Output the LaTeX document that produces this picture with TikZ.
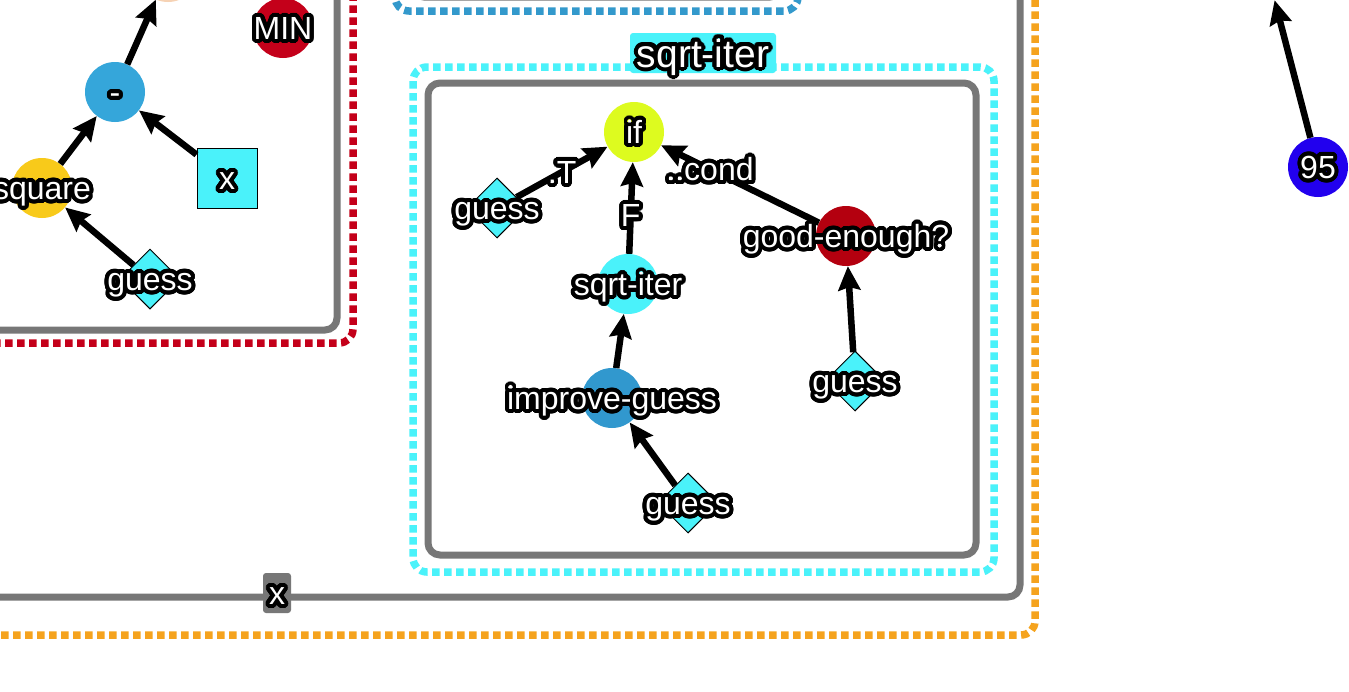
\documentclass[tikz,border=0pt]{standalone}
\usepackage{fontspec}
\setmainfont{Liberation Sans}
\usepackage{contour}
\contourlength{4pt}
\contournumber{32}
\usetikzlibrary{arrows.meta,shapes.geometric}
\definecolor{cy}{HTML}{4AF2FA}
\definecolor{blA}{HTML}{35A6DA}
\definecolor{blB}{HTML}{3198CE}
\definecolor{yl}{HTML}{F8CA1A}
\definecolor{lime}{HTML}{DDFB1F}
\definecolor{rdA}{HTML}{C4001A}
\definecolor{rdB}{HTML}{B4000F}
\definecolor{nb}{HTML}{2200EE}
\definecolor{gr}{HTML}{777777}
\definecolor{og}{HTML}{F5A31E}
\definecolor{bfr}{HTML}{3399CC}
\definecolor{peach}{HTML}{F6D2B4}
\newcommand\olt[1]{\contour{black}{#1}}
\tikzset{
  lbl/.style={font=\fontsize{32}{38}\selectfont, text=white, inner sep=0pt, text height=23pt, text depth=0pt},
  ttl/.style={font=\fontsize{39}{46}\selectfont, text=white, inner sep=0pt, text height=28pt, text depth=0pt},
  circ/.style={circle, minimum size=60pt, inner sep=0pt},
  dia/.style={diamond, draw=black, line width=1pt, fill=cy, minimum size=60pt, inner sep=0pt},
  sqbox/.style={rectangle, draw=black, line width=1pt, fill=cy, minimum size=60pt, inner sep=0pt},
  arr/.style={line width=6.5pt, -{Stealth[length=24pt,width=22pt,inset=3pt]}},
  dotframe/.style={line width=7.5pt, dash pattern=on 7.5pt off 4.5pt, rounded corners=14pt},
  grframe/.style={line width=7pt, draw=gr, rounded corners=12pt},
}
\begin{document}
\begin{tikzpicture}[x=1pt,y=-1pt]
\useasboundingbox (0,0) rectangle (1349,691);
\clip (0,0) rectangle (1349,691);
\fill[white] (0,0) rectangle (1349,691);
% frames
\draw[dotframe, draw=og] (-40,-40) rectangle (1035,635);
\draw[grframe] (-30,-30) rectangle (1020,597);
\draw[dotframe, draw=bfr] (395,-60) rectangle (798,11);
\draw[grframe] (412,-60) rectangle (782,-3);
\draw[dotframe, draw=rdA] (-40,-40) rectangle (353,343);
\draw[grframe] (-30,-30) rectangle (337,330);
\draw[dotframe, draw=cy] (413,67) rectangle (994,572);
\draw[grframe] (428,83) rectangle (976,555);
% frame labels
\node[fill=cy, rounded corners=3pt, minimum width=146pt, minimum height=40pt, inner sep=0pt] (title) at (703,53) {};
\node[ttl] (titletext) at (title.center) {\olt{sqrt-iter}};
\node[fill=gr, rounded corners=3pt, minimum width=28pt, minimum height=40pt, inner sep=0pt] (xtag) at (277,593) {};
\node[lbl] (xtagtext) at (xtag.center) {\olt{x}};
% shapes
\node[circ, fill=lime] (if) at (634,132) {};
\node[dia] (g1) at (497,208) {};
\node[circ, fill=cy] (si) at (628,284) {};
\node[circ, fill=blB] (ig) at (612,398) {};
\node[dia] (g2) at (688,503) {};
\node[circ, fill=rdB] (ge) at (846,236) {};
\node[dia] (g3) at (855,381) {};
\node[circ, fill=blA] (minus) at (115,92) {};
\node[circ, fill=yl] (sqr) at (42,188) {};
\node[sqbox] (xv) at (227,178) {};
\node[dia] (g4) at (150,279) {};
\node[circ, fill=rdA] (min) at (283,28) {};
\node[circ, fill=nb] (n95) at (1318,167) {};
\node[circ, fill=peach] (top1) at (168,-28) {};
\node[circ] (top2) at (1267,-29) {};
% connectors
\draw[arr] (g1) -- node[lbl, pos=0.5] {\olt{.T}} (if);
\draw[arr] (si) -- node[lbl, pos=0.42] {\olt{F}} (if);
\draw[arr] (ge) -- node[lbl, pos=0.69] {\olt{..cond}} (if);
\draw[arr] (ig) -- (si);
\draw[arr] (g2) -- (ig);
\draw[arr] (g3) -- (ge);
\draw[arr] (g4) -- (sqr);
\draw[arr] (sqr) -- (minus);
\draw[arr] (xv) -- (minus);
\draw[arr] (minus) -- (top1);
\draw[arr] (n95) -- (top2);
% texts
\node[lbl] at (if.center) {\olt{if}};
\node[lbl] at (g1.center) {\olt{guess}};
\node[lbl] at (si.center) {\olt{sqrt-iter}};
\node[lbl] at (ig.center) {\olt{improve-guess}};
\node[lbl] at (g2.center) {\olt{guess}};
\node[lbl] at (ge.center) {\olt{good-enough?}};
\node[lbl] at (g3.center) {\olt{guess}};
\node[lbl] at (minus.center) {\olt{-}};
\node[lbl] at (sqr.center) {\olt{square}};
\node[lbl] at (xv.center) {\olt{x}};
\node[lbl] at (g4.center) {\olt{guess}};
\node[lbl] at (min.center) {\olt{MIN}};
\node[lbl] at (n95.center) {\olt{95}};
\end{tikzpicture}
\end{document}
